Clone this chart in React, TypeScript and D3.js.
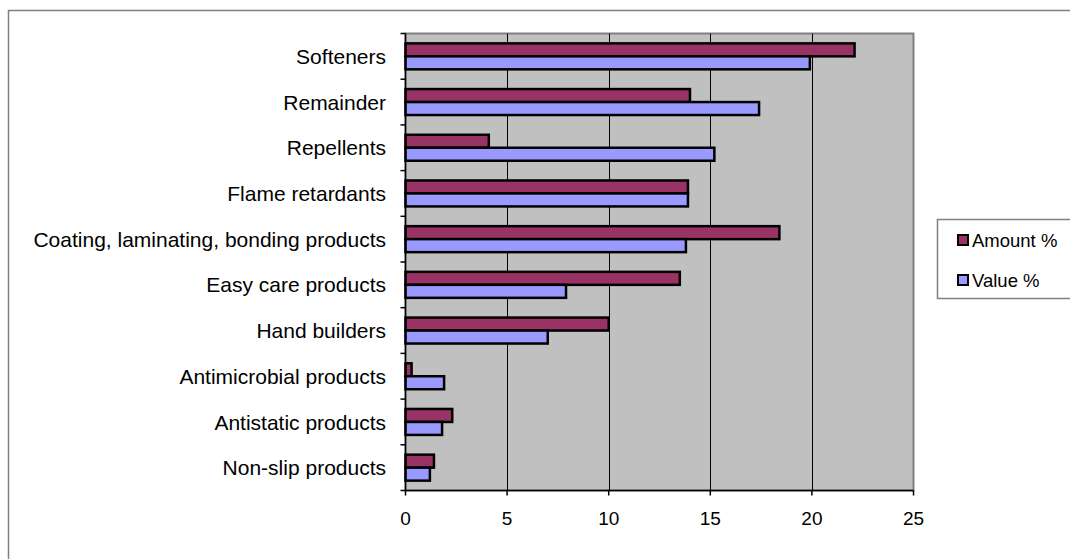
import React, { useEffect, useRef } from "react";
import * as d3 from "d3";

// categories top -> bottom
const categories = [
  "Softeners",
  "Remainder",
  "Repellents",
  "Flame retardants",
  "Coating, laminating, bonding products",
  "Easy care products",
  "Hand builders",
  "Antimicrobial products",
  "Antistatic products",
  "Non-slip products",
];

const amountPct = [22.1, 14.0, 4.1, 13.9, 18.4, 13.5, 10.0, 0.3, 2.3, 1.4];
const valuePct = [19.9, 17.4, 15.2, 13.9, 13.8, 7.9, 7.0, 1.9, 1.8, 1.2];

const seriesNames = ["Amount %", "Value %"];
const seriesColors = ["#993366", "#9999ff"];
const xTicks = [0, 5, 10, 15, 20, 25];

const W = 1070;
const H = 559;

export default function App() {
  const svgRef = useRef<SVGSVGElement>(null);

  useEffect(() => {
    if (!svgRef.current) return;
    const svg = d3.select(svgRef.current);
    svg.selectAll("*").remove();

    const font = "'Liberation Sans', Arial, sans-serif";
    const plot = { left: 405.5, right: 913.5, top: 33.5, bottom: 490.5 };

    // outer chart frame (runs off the page on the right/bottom)
    svg
      .append("rect")
      .attr("x", 8.5)
      .attr("y", 10.5)
      .attr("width", W + 20)
      .attr("height", H + 20)
      .attr("fill", "#fff")
      .attr("stroke", "#808080")
      .attr("stroke-width", 1.5);

    const x = d3.scaleLinear().domain([0, 25]).range([plot.left, plot.right]);
    const y = d3
      .scaleBand<string>()
      .domain(categories)
      .range([plot.top, plot.bottom]);
    const inner = d3
      .scaleBand<string>()
      .domain(seriesNames)
      .range([0, y.bandwidth()])
      .paddingOuter(0.76);

    // plot area
    svg
      .append("rect")
      .attr("x", plot.left)
      .attr("y", plot.top)
      .attr("width", plot.right - plot.left)
      .attr("height", plot.bottom - plot.top)
      .attr("fill", "#c0c0c0")
      .attr("stroke", "#808080")
      .attr("stroke-width", 2);

    // gridlines
    svg
      .append("g")
      .selectAll("line")
      .data(xTicks.slice(1, -1))
      .join("line")
      .attr("x1", (d) => Math.round(x(d)) + 0.5)
      .attr("x2", (d) => Math.round(x(d)) + 0.5)
      .attr("y1", plot.top)
      .attr("y2", plot.bottom)
      .attr("stroke", "#000")
      .attr("stroke-width", 1);

    // bars
    const rows = categories.map((c, i) => ({ c, vals: [amountPct[i], valuePct[i]] }));
    const g = svg.append("g");
    rows.forEach((r) => {
      r.vals.forEach((v, j) => {
        g.append("rect")
          .attr("x", x(0))
          .attr("y", (y(r.c) ?? 0) + (inner(seriesNames[j]) ?? 0))
          .attr("width", x(v) - x(0))
          .attr("height", inner.bandwidth())
          .attr("fill", seriesColors[j])
          .attr("stroke", "#000")
          .attr("stroke-width", 2.5);
      });
    });

    // left axis
    svg
      .append("line")
      .attr("x1", plot.left)
      .attr("x2", plot.left)
      .attr("y1", plot.top)
      .attr("y2", plot.bottom)
      .attr("stroke", "#000")
      .attr("stroke-width", 1.5);
    const bandEdges = categories.map((c) => y(c) ?? 0).concat([plot.bottom]);
    svg
      .append("g")
      .selectAll("line")
      .data(bandEdges)
      .join("line")
      .attr("x1", plot.left - 5)
      .attr("x2", plot.left)
      .attr("y1", (d) => d)
      .attr("y2", (d) => d)
      .attr("stroke", "#000")
      .attr("stroke-width", 1.5);

    svg
      .append("g")
      .selectAll("text")
      .data(categories)
      .join("text")
      .attr("x", 386)
      .attr("y", (d) => (y(d) ?? 0) + y.bandwidth() / 2)
      .attr("dy", "0.36em")
      .attr("text-anchor", "end")
      .attr("font-family", font)
      .attr("font-size", 21)
      .attr("fill", "#000")
      .text((d) => d);

    // bottom axis
    svg
      .append("line")
      .attr("x1", plot.left)
      .attr("x2", plot.right)
      .attr("y1", plot.bottom)
      .attr("y2", plot.bottom)
      .attr("stroke", "#000")
      .attr("stroke-width", 1.5);
    const xt = svg.append("g");
    xt.selectAll("line")
      .data(xTicks)
      .join("line")
      .attr("x1", (d) => x(d))
      .attr("x2", (d) => x(d))
      .attr("y1", plot.bottom)
      .attr("y2", plot.bottom + 5)
      .attr("stroke", "#000")
      .attr("stroke-width", 1.5);
    xt.selectAll("text")
      .data(xTicks)
      .join("text")
      .attr("x", (d) => x(d))
      .attr("y", 518)
      .attr("dy", "0.36em")
      .attr("text-anchor", "middle")
      .attr("font-family", font)
      .attr("font-size", 19)
      .attr("fill", "#000")
      .text((d) => String(d));

    // legend
    const leg = svg.append("g");
    leg
      .append("rect")
      .attr("x", 937.5)
      .attr("y", 219.5)
      .attr("width", 200)
      .attr("height", 79)
      .attr("fill", "#fff")
      .attr("stroke", "#808080")
      .attr("stroke-width", 1.5);
    seriesNames.forEach((s, i) => {
      const cy = 240 + i * 40;
      leg
        .append("rect")
        .attr("x", 958)
        .attr("y", cy - 5)
        .attr("width", 10)
        .attr("height", 10)
        .attr("fill", seriesColors[i])
        .attr("stroke", "#000")
        .attr("stroke-width", 2);
      leg
        .append("text")
        .attr("x", 972)
        .attr("y", cy)
        .attr("dy", "0.36em")
        .attr("font-family", font)
        .attr("font-size", 18.5)
        .attr("fill", "#000")
        .text(s);
    });
  }, []);

  return (
    <svg
      ref={svgRef}
      width={W}
      height={H}
      style={{ position: "absolute", left: 0, top: 0, display: "block" }}
    />
  );
}
